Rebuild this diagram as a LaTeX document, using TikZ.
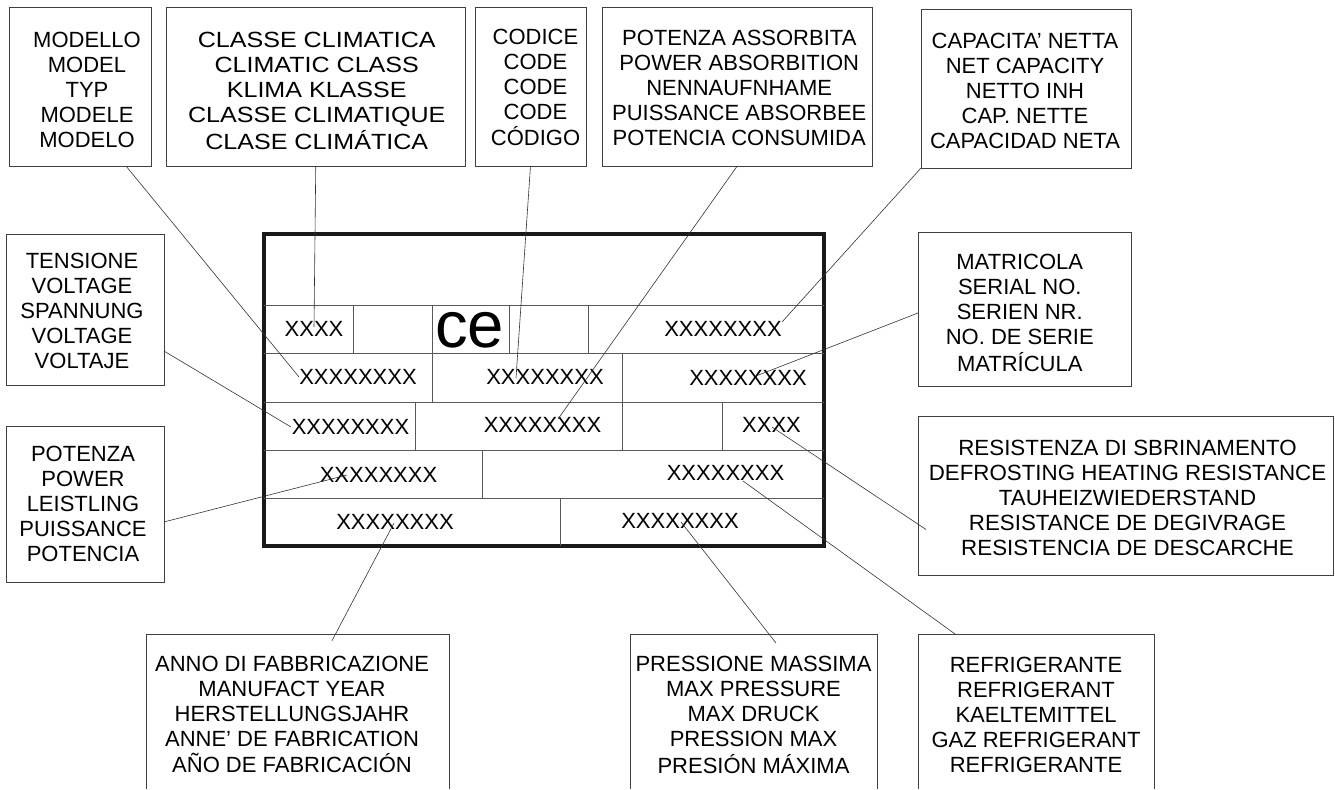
\documentclass[tikz,border=0pt]{standalone}
\usepackage{fontspec}
\usepackage{graphicx}
\setmainfont{Liberation Sans}
\usetikzlibrary{calc,fit}
\newcommand{\boxlines}[4]{\raisebox{\dimexpr -7pt + #2pt*-3/4\relax}[0pt][0pt]{\makebox[0pt]{\hspace{\dimexpr #1pt*3/2\relax}\scalebox{#3}[1]{\begin{tabular}{@{}c@{}}#4\end{tabular}}}}}
\begin{document}
\begin{tikzpicture}[x=0.75pt,y=-0.75pt,font=\fontsize{16.5}{18.75}\selectfont,labelbox/.style={draw=black!75,line width=0.6pt,inner sep=0pt,outer sep=0pt},openbox/.style={inner sep=0pt,outer sep=0pt},sidelines/.style={draw=black!75,line width=0.6pt},leader/.style={draw=black!80,line width=0.45pt},plate/.style={draw=black!90,line width=3pt,inner sep=0pt,outer sep=0pt},cellrule/.style={draw=black!65,line width=0.7pt},xxcell/.style={inner sep=0pt}]
\useasboundingbox (0,0) rectangle (1335,789);
% label boxes, top row
\node[labelbox,fit={(9,7)(151,166)}] (modello) {\boxlines{7}{2.5}{1}{MODELLO\\MODEL\\TYP\\MODELE\\MODELO}};
\node[labelbox,fit={(166.5,7)(465,166)}] (classe) {\boxlines{1}{3.5}{1.14}{CLASSE CLIMATICA\\CLIMATIC CLASS\\KLIMA KLASSE\\CLASSE CLIMATIQUE\\CLASE CLIMÁTICA}};
\node[labelbox,fit={(475,7)(586,166)}] (codice) {\boxlines{5}{0}{1}{CODICE\\CODE\\CODE\\CODE\\CÓDIGO}};
\node[labelbox,fit={(602,7)(872.5,166)}] (assorbita) {\boxlines{2}{0}{1}{POTENZA ASSORBITA\\POWER ABSORBITION\\NENNAUFNHAME\\PUISSANCE ABSORBEE\\POTENCIA CONSUMIDA}};
\node[labelbox,fit={(921,9)(1131,168)}] (capacita) {\boxlines{-1}{1.5}{1}{CAPACITA' NETTA\\NET CAPACITY\\NETTO INH\\CAP. NETTE\\CAPACIDAD NETA}};
% label boxes, sides
\node[labelbox,fit={(6,234)(164,385)}] (tensione) {\boxlines{-3}{0.5}{1}{TENSIONE\\VOLTAGE\\SPANNUNG\\VOLTAGE\\VOLTAJE}};
\node[labelbox,fit={(6,426)(164,582)}] (potenza) {\boxlines{-2}{-1}{1}{POTENZA\\POWER\\LEISTLING\\PUISSANCE\\POTENCIA}};
\node[labelbox,fit={(918,232)(1131.5,386)}] (matricola) {\boxlines{-5}{3}{1}{MATRICOLA\\SERIAL NO.\\SERIEN NR.\\NO. DE SERIE\\MATRÍCULA}};
\node[labelbox,fit={(918,416)(1333,575)}] (resistenza) {\boxlines{2}{1.5}{1.015}{RESISTENZA DI SBRINAMENTO\\DEFROSTING HEATING RESISTANCE\\TAUHEIZWIEDERSTAND\\RESISTANCE DE DEGIVRAGE\\RESISTENCIA DE DESCARCHE}};
% label boxes, bottom row (run off the page)
\node[openbox,fit={(146,634)(449,789)}] (anno) {\boxlines{-5.5}{2}{1}{ANNO DI FABBRICAZIONE\\MANUFACT YEAR\\HERSTELLUNGSJAHR\\ANNE' DE FABRICATION\\AÑO DE FABRICACIÓN}};
\node[openbox,fit={(630,634)(877,789)}] (pressione) {\boxlines{0}{2.5}{1}{PRESSIONE MASSIMA\\MAX PRESSURE\\MAX DRUCK\\PRESSION MAX\\PRESIÓN MÁXIMA}};
\node[openbox,fit={(918,634)(1154,789)}] (refrigerante) {\boxlines{0}{2.5}{1}{REFRIGERANTE\\REFRIGERANT\\KAELTEMITTEL\\GAZ REFRIGERANT\\REFRIGERANTE}};
\foreach \b in {anno,pressione,refrigerante}
  \draw[sidelines] (\b.south west) |- (\b.north east) -- (\b.south east);
% data plate
\node[plate,fit={(263.5,233.5)(824,546)}] (dataplate) {};
\foreach \y in {305,353,402,450,498}
  \draw[cellrule] (263.5,\y) -- (824,\y);
\foreach \x/\ya/\yb in {353/305/353,432/305/402,509.5/305/353,588.5/305/353,622/353/450,415/402/450,722.5/402/450,482/450/498,560/498/546}
  \draw[cellrule] (\x,\ya) -- (\x,\yb);
\node[xxcell] (cellclasse) at (314,329) {XXXX};
\node[xxcell,font=\fontsize{49}{49}\selectfont] (cellce) at (469.5,330) {ce};
\node[xxcell] (cellcapacita) at (723,329) {XXXXXXXX};
\node[xxcell] (cellmodello) at (358,377) {XXXXXXXX};
\node[xxcell] (cellcodice) at (545,377) {XXXXXXXX};
\node[xxcell] (cellmatricola) at (748,378) {XXXXXXXX};
\node[xxcell] (celltensione) at (350.5,427) {XXXXXXXX};
\node[xxcell] (cellassorbita) at (542.5,425) {XXXXXXXX};
\node[xxcell] (cellresistenza) at (771.5,425) {XXXX};
\node[xxcell] (cellpotenza) at (378.5,475) {XXXXXXXX};
\node[xxcell] (cellrefrigerante) at (725.5,473) {XXXXXXXX};
\node[xxcell] (cellanno) at (395,522) {XXXXXXXX};
\node[xxcell] (cellpressione) at (680,521) {XXXXXXXX};
% free ends of the leaders
\coordinate (endmodello) at (299,377);
\coordinate (endclasse) at (314,327);
\coordinate (endcodice) at (516,378);
\coordinate (endassorbita) at (558,419);
\coordinate (endcapacita) at (782,322);
\coordinate (endtensione) at (291,427);
\coordinate (endpotenza) at (347,475);
\coordinate (endmatricola) at (756,376);
\coordinate (endresistenza) at (772,427);
\coordinate (endrefrigerante) at (743,481);
\coordinate (endanno) at (394,523);
\coordinate (endpressione) at (681,522);
% leaders
\draw[leader] ($(modello.south west)!0.824!(modello.south east)$) -- (endmodello);
\draw[leader] (classe.south) -- (endclasse);
\draw[leader] (codice.south) -- (endcodice);
\draw[leader] (assorbita.south) -- (endassorbita);
\draw[leader] (capacita.south west) -- (endcapacita);
\draw[leader] ($(tensione.north east)!0.775!(tensione.south east)$) -- (endtensione);
\draw[leader] ($(potenza.north east)!0.615!(potenza.south east)$) -- (endpotenza);
\draw[leader] ($(matricola.north west)!0.526!(matricola.south west)$) -- (endmatricola);
\draw[leader] ($(resistenza.west)+(8,34)$) -- (endresistenza);
\draw[leader] ($(refrigerante.north west)!0.157!(refrigerante.north east)$) -- (endrefrigerante);
\draw[leader] ($(anno.north)+(34.5,6.7)$) -- (endanno);
\draw[leader] ($(pressione.north)+(22.5,9)$) -- (endpressione);
\end{tikzpicture}
\end{document}
